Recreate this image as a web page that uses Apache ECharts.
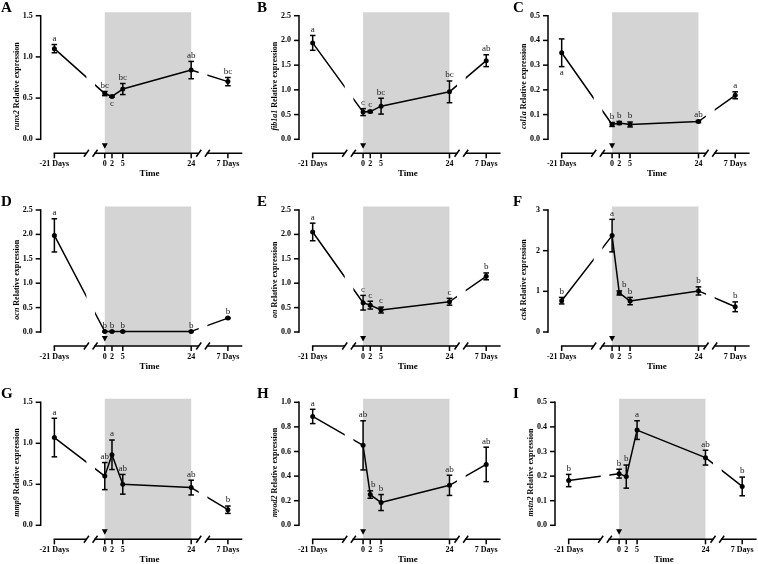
<!DOCTYPE html>
<html><head><meta charset="utf-8">
<script src="https://cdn.jsdelivr.net/npm/echarts@6/dist/echarts.min.js"></script>
<style>html,body{margin:0;padding:0;background:#fff}#c{width:758px;height:564px}</style>
</head><body><div id="c"></div>
<script>
// ================= DATA =================
const timepoints = ['-21 Days', '0', '2', '5', '24', '7 Days'];
const xAxisTitle = 'Time';
const yAxisSuffix = ' Relative expression';
const panelLetters = ['A', 'B', 'C', 'D', 'E', 'F', 'G', 'H', 'I'];
const genes = ['runx2', 'fib1a1', 'col1a', 'ocn', 'on', 'ctsk', 'mmp9', 'myod2', 'mstn2'];

const runx2Mean = [1.10, 0.555, 0.52, 0.61, 0.84, 0.70];
const runx2Err  = [0.05, 0.025, 0.01, 0.067, 0.105, 0.05];
const runx2Sig  = ['a', 'bc', 'c', 'bc', 'ab', 'bc'];
const runx2Ticks = ['0.0', '0.5', '1.0', '1.5'];

const fib1a1Mean = [1.95, 0.55, 0.56, 0.67, 0.96, 1.59];
const fib1a1Err  = [0.15, 0.07, 0.02, 0.16, 0.22, 0.12];
const fib1a1Sig  = ['a', 'c', 'c', 'bc', 'bc', 'ab'];
const fib1a1Ticks = ['0.0', '0.5', '1.0', '1.5', '2.0', '2.5'];

const col1aMean = [0.35, 0.06, 0.066, 0.06, 0.072, 0.178];
const col1aErr  = [0.056, 0.008, 0.006, 0.01, 0.004, 0.014];
const col1aSig  = ['a', 'b', 'b', 'b', 'ab', 'a'];
const col1aTicks = ['0.0', '0.1', '0.2', '0.3', '0.4', '0.5'];

const ocnMean = [1.98, 0.01, 0.01, 0.01, 0.012, 0.285];
const ocnErr  = [0.34, 0.005, 0.005, 0.005, 0.005, 0.01];
const ocnSig  = ['a', 'b', 'b', 'b', 'b', 'b'];
const ocnTicks = ['0.0', '0.5', '1.0', '1.5', '2.0', '2.5'];

const onMean = [2.05, 0.60, 0.55, 0.45, 0.62, 1.14];
const onErr  = [0.18, 0.15, 0.08, 0.06, 0.07, 0.07];
const onSig  = ['a', 'c', 'c', 'c', 'c', 'b'];
const onTicks = ['0.0', '0.5', '1.0', '1.5', '2.0', '2.5'];

const ctskMean = [0.77, 2.37, 0.96, 0.76, 1.01, 0.62];
const ctskErr  = [0.08, 0.40, 0.05, 0.09, 0.10, 0.12];
const ctskSig  = ['b', 'a', 'b', 'b', 'b', 'b'];
const ctskTicks = ['0', '1', '2', '3'];

const mmp9Mean = [1.07, 0.60, 0.86, 0.50, 0.46, 0.19];
const mmp9Err  = [0.235, 0.165, 0.18, 0.12, 0.09, 0.045];
const mmp9Sig  = ['a', 'ab', 'a', 'ab', 'ab', 'b'];
const mmp9Ticks = ['0.0', '0.5', '1.0', '1.5'];

const myod2Mean = [0.885, 0.65, 0.25, 0.185, 0.325, 0.495];
const myod2Err  = [0.058, 0.20, 0.03, 0.065, 0.082, 0.14];
const myod2Sig  = ['a', 'ab', 'b', 'b', 'ab', 'ab'];
const myod2Ticks = ['0.0', '0.2', '0.4', '0.6', '0.8', '1.0'];

const mstn2Mean = [0.182, 0.21, 0.198, 0.387, 0.275, 0.158];
const mstn2Err  = [0.025, 0.018, 0.047, 0.038, 0.03, 0.038];
const mstn2Sig  = ['b', 'b', 'b', 'a', 'ab', 'b'];
const mstn2Ticks = ['0.0', '0.1', '0.2', '0.3', '0.4', '0.5'];

const panelData = [
  [runx2Mean, runx2Err, runx2Sig, runx2Ticks],
  [fib1a1Mean, fib1a1Err, fib1a1Sig, fib1a1Ticks],
  [col1aMean, col1aErr, col1aSig, col1aTicks],
  [ocnMean, ocnErr, ocnSig, ocnTicks],
  [onMean, onErr, onSig, onTicks],
  [ctskMean, ctskErr, ctskSig, ctskTicks],
  [mmp9Mean, mmp9Err, mmp9Sig, mmp9Ticks],
  [myod2Mean, myod2Err, myod2Sig, myod2Ticks],
  [mstn2Mean, mstn2Err, mstn2Sig, mstn2Ticks]
];

// ================= LAYOUT =================
// broken time axis: where each timepoint sits on the drawing scale
const X_POS = {'-21 Days': -14, '0': 0, '2': 2, '5': 5, '24': 24, '7 Days': 34.2};
const SHADE = ['0', '24'];
const ARROW_AT = '0';
const XMIN = -17.8, XMAX = 38.2, PX_PER_X = 3.6;
const PAD = 7;
const TICK = 5;
const LW = 1.5;
const BREAKS = [[-5.1, -2.7], [26.1, 28.5]];
const COL_LEFT = [[40.7, 299, 548], [40.7, 299, 548], [40.7, 299, 555]];
const ROWS = [
  {max: 15.7, zero: 139.3, axis: 153.3},
  {max: 210, zero: 332, axis: 346},
  {max: 402.3, zero: 525.3, axis: 539.3}
];
const LETTER_POS = [[1, 1], [257, 1], [513, 1], [1, 195], [257, 195], [513, 195], [1, 387], [257, 387], [513, 387]];
const SIG_BELOW = {0: [2], 2: [0]};
const SIG_DX = {5: {2: 5}, 7: {2: 3}};
const FONT = '"Liberation Serif", "Times New Roman", serif';
const GREY = '#d4d4d4';

const xVals = timepoints.map(t => X_POS[t]);

const grids = [], xAxes = [], yAxes = [], series = [], letterEls = [], panelInfo = [];

panelData.forEach((pd, i) => {
  const [mean, err, sig, ticks] = pd;
  const r = Math.floor(i / 3), c = i % 3;
  const row = ROWS[r];
  const tickVals = ticks.map(Number);
  const yTop = tickVals[tickVals.length - 1];
  const ppu = (row.zero - row.max) / yTop;
  const yAxisLineVal = -(row.axis - row.zero) / ppu;
  const yMin = -(row.axis + PAD - row.zero) / ppu;
  const yMax = yTop + 3.5 / ppu;
  const top = row.max - 3.5;
  panelInfo.push({tickVals, yTop, yAxisLineVal, yMax});
  grids.push({left: COL_LEFT[r][c] - PAD, top: top, width: (XMAX - XMIN) * PX_PER_X + PAD, height: row.axis + PAD - top,
    containLabel: false, outerBoundsMode: 'none'});
  xAxes.push({
    gridIndex: i, type: 'value', min: XMIN - PAD / PX_PER_X, max: XMAX, position: 'bottom',
    axisLine: {show: false, onZero: false}, splitLine: {show: false}, axisTick: {show: false},
    axisLabel: {show: true, customValues: xVals, margin: 0, color: '#000', fontSize: 8, fontWeight: 'bold', fontFamily: FONT,
      formatter: v => timepoints[xVals.indexOf(v)] ?? ''},
    name: xAxisTitle, nameLocation: 'middle', nameGap: 9, nameMoveOverlap: false,
    nameTextStyle: {color: '#000', fontSize: 9, fontWeight: 'bold', fontFamily: FONT, padding: [0, 0, 0, 23]}
  });
  yAxes.push({
    gridIndex: i, type: 'value', min: yMin, max: yMax, position: 'left',
    axisLine: {show: false, onZero: false}, splitLine: {show: false}, axisTick: {show: false},
    axisLabel: {show: true, customValues: tickVals, margin: 1, color: '#000', fontSize: 8, fontWeight: 'bold', fontFamily: FONT,
      formatter: v => ticks[tickVals.indexOf(v)] ?? ''},
    name: '{i|' + genes[i] + '}' + yAxisSuffix, nameLocation: 'middle', nameGap: 13, nameMoveOverlap: false,
    nameTextStyle: {color: '#000', fontSize: 8, fontWeight: 'bold', fontFamily: FONT,
      rich: {i: {fontStyle: 'italic', fontWeight: 'bold', fontSize: 8, fontFamily: FONT, color: '#000'}}}
  });

  // background shade (0 h .. 24 h)
  series.push({
    type: 'custom', xAxisIndex: i, yAxisIndex: i, z: 1, silent: true, clip: false,
    data: [[0]],
    renderItem: (params, api) => {
      const a = api.coord([X_POS[SHADE[0]], yMax]), b = api.coord([X_POS[SHADE[1]], yAxisLineVal]);
      return {type: 'rect', shape: {x: a[0], y: a[1], width: b[0] - a[0], height: b[1] - a[1]}, style: {fill: GREY}};
    }
  });
  // mean line with points
  series.push({
    type: 'line', xAxisIndex: i, yAxisIndex: i, z: 2, silent: true,
    data: mean.map((v, k) => [xVals[k], v]),
    symbol: 'circle', symbolSize: 5, showSymbol: true,
    itemStyle: {color: '#000'}, lineStyle: {color: '#000', width: 1.5}
  });
  // white masks over the broken parts of the time axis
  series.push({
    type: 'custom', xAxisIndex: i, yAxisIndex: i, z: 3, silent: true, clip: false,
    data: [[0]],
    renderItem: (params, api) => {
      const ch = BREAKS.map(([a, b]) => {
        const p = api.coord([a, yMax]), q = api.coord([b, yAxisLineVal]);
        return {type: 'rect', shape: {x: p[0], y: p[1], width: q[0] - p[0], height: q[1] - p[1]}, style: {fill: '#fff'}};
      });
      return {type: 'group', children: ch};
    }
  });
  // error bars + significance letters
  series.push({
    type: 'custom', xAxisIndex: i, yAxisIndex: i, z: 4, silent: true, clip: false,
    data: mean.map((v, k) => [xVals[k], v, err[k]]),
    encode: {x: 0, y: 1},
    renderItem: (params, api) => {
      const k = params.dataIndex;
      const x = api.value(0), y = api.value(1), e = api.value(2);
      const t = api.coord([x, y + e]), b = api.coord([x, y - e]);
      const below = (SIG_BELOW[i] || []).includes(k);
      const dx = (SIG_DX[i] && SIG_DX[i][k]) || 0;
      return {type: 'group', children: [
        {type: 'line', shape: {x1: t[0], y1: t[1], x2: b[0], y2: b[1]}, style: {stroke: '#000', lineWidth: 1.5}},
        {type: 'line', shape: {x1: t[0] - 2.8, y1: t[1], x2: t[0] + 2.8, y2: t[1]}, style: {stroke: '#000', lineWidth: 1.5}},
        {type: 'line', shape: {x1: b[0] - 2.8, y1: b[1], x2: b[0] + 2.8, y2: b[1]}, style: {stroke: '#000', lineWidth: 1.5}},
        {type: 'text', x: t[0] + dx, y: below ? b[1] + 1.5 : t[1] - 1.5,
          style: {text: sig[k], fill: '#222', font: '9px ' + FONT, align: 'center', verticalAlign: below ? 'top' : 'bottom'}}
      ]};
    }
  });

  letterEls.push({type: 'text', left: LETTER_POS[i][0], top: LETTER_POS[i][1], z: 100,
    style: {text: panelLetters[i], fill: '#000', font: 'bold 15px ' + FONT}});
});

const chart = echarts.init(document.getElementById('c'), null, {renderer: 'canvas'});
chart.setOption({
  animation: false,
  backgroundColor: '#fff',
  grid: grids, xAxis: xAxes, yAxis: yAxes, series: series, graphic: letterEls
});

// axis lines, ticks, break marks and the stimulus arrow, placed through each panel's scales
const axisEls = [];
const ln = (x1, y1, x2, y2) => ({type: 'line', z: 100, silent: true, shape: {x1, y1, x2, y2}, style: {stroke: '#000', lineWidth: LW}});
const bar = (x, y, w, h) => ({type: 'rect', z: 100, silent: true, shape: {x, y, width: w, height: h}, style: {fill: '#000'}});
panelInfo.forEach((info, i) => {
  const P = (x, y) => chart.convertToPixel({gridIndex: i}, [x, y]);
  const axY = P(0, info.yAxisLineVal)[1];
  const yx = P(XMIN, 0)[0];
  const y0 = P(XMIN, 0)[1], yT = P(XMIN, info.yTop)[1];
  axisEls.push(bar(yx - LW / 2, yT - LW / 2, LW, y0 - yT + LW));
  info.tickVals.forEach(v => { const yy = P(XMIN, v)[1]; axisEls.push(bar(yx - TICK, yy - LW / 2, TICK, LW)); });
  const segs = [[X_POS[timepoints[0]], BREAKS[0][0]], [BREAKS[0][1], BREAKS[1][0]], [BREAKS[1][1], XMAX]];
  segs.forEach(([a, b]) => axisEls.push(ln(P(a, 0)[0] - LW / 2, axY, P(b, 0)[0], axY)));
  xVals.forEach(v => { const xx = P(v, 0)[0]; axisEls.push(bar(xx - LW / 2, axY, LW, TICK)); });
  BREAKS.flat().forEach(v => { const xx = P(v, 0)[0]; axisEls.push(ln(xx - 2.5, axY + 3.5, xx + 2.5, axY - 3.5)); });
  const x0 = P(X_POS[ARROW_AT], 0)[0];
  axisEls.push({type: 'polygon', z: 100, silent: true, shape: {points: [[x0 - 3, axY - 10], [x0 + 3, axY - 10], [x0, axY - 4.5]]}, style: {fill: '#000'}});
});
chart.setOption({graphic: letterEls.concat(axisEls)});
</script>
</body></html>
